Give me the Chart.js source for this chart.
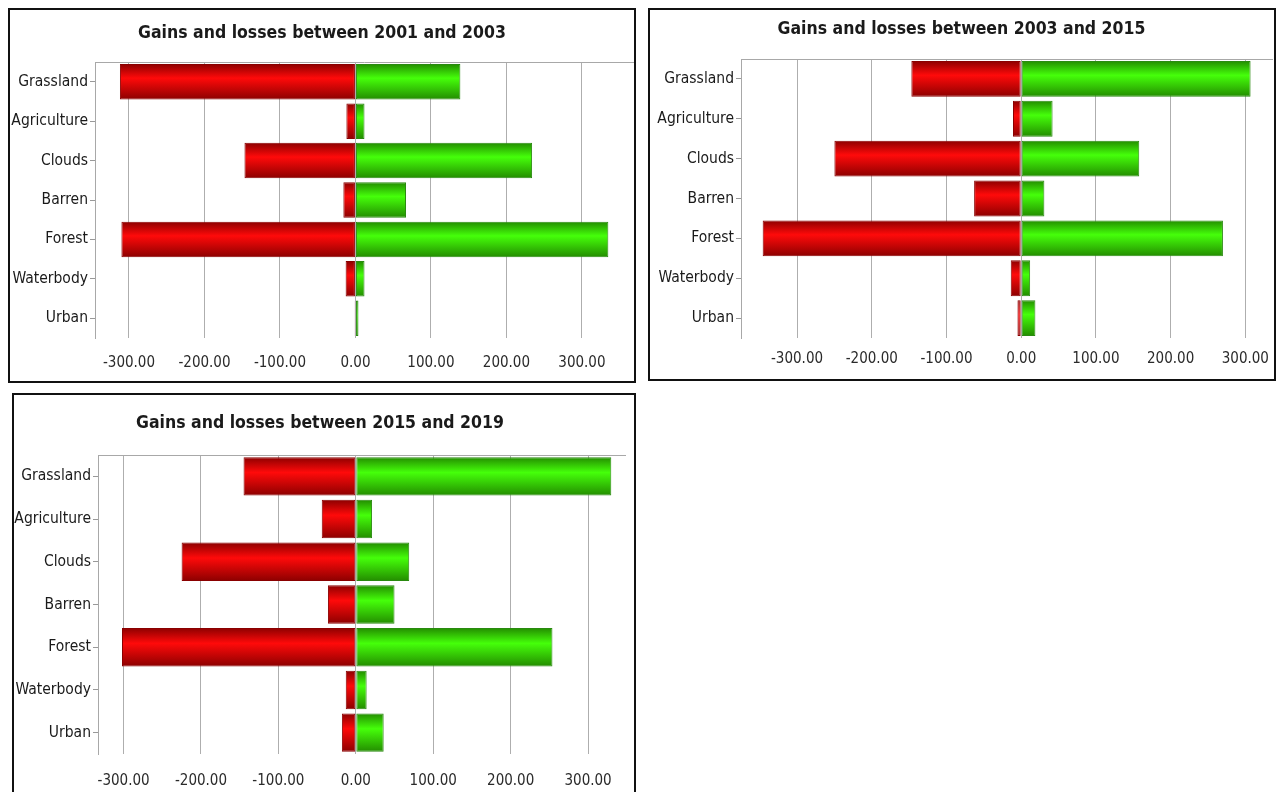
<!DOCTYPE html>
<html>
<head>
<meta charset="utf-8">
<script src="https://cdn.jsdelivr.net/npm/chart.js@4.4.1/dist/chart.umd.min.js"></script>
<style>
  body { margin: 0; background: #fff; width: 1277px; height: 792px; overflow: hidden; position: relative; }
  .panel { position: absolute; box-sizing: border-box; border: 2px solid #111; background: #fff; }
  .panel canvas { position: absolute; left: 0; top: 0; }
</style>
</head>
<body>
<div class="panel" style="left:8px;top:8px;width:628px;height:375px;"><canvas id="c1" width="624" height="371"></canvas></div>
<div class="panel" style="left:648px;top:8px;width:628px;height:373px;"><canvas id="c2" width="624" height="369"></canvas></div>
<div class="panel" style="left:12px;top:393px;width:624px;height:404px;"><canvas id="c3" width="620" height="400"></canvas></div>

<script>
// land cover classes, top to bottom
const categories = ['Grassland', 'Agriculture', 'Clouds', 'Barren', 'Forest', 'Waterbody', 'Urban'];

// 2001 -> 2003
const losses0103 = [-312, -12, -147, -16, -310, -13, -1];
const gains0103 = [139, 12, 234, 67, 335, 12, 4];

// 2003 -> 2015
const losses0315 = [-147, -11, -250, -63, -346, -14, -5];
const gains0315 = [307, 42, 158, 31, 270, 12, 19];

// 2015 -> 2019
const losses1519 = [-145, -44, -225, -36, -302, -13, -18];
const gains1519 = [330, 21, 69, 50, 254, 14, 36];

const tickValues = [-300, -200, -100, 0, 100, 200, 300];

const FONT = '"Liberation Sans Narrow", "DejaVu Sans Condensed", "Arial Narrow", sans-serif';

// vertical gradient per bar, dark edges and bright middle
function barFill(dark, bright) {
  return (ctx) => {
    const chart = ctx.chart;
    const y = chart.scales && chart.scales.y;
    if (!chart.chartArea || !y || ctx.type !== 'data') return bright;
    const c = y.getPixelForValue(ctx.dataIndex);
    const h = Math.abs(y.getPixelForValue(1) - y.getPixelForValue(0)) * 0.9 / 2;
    const g = chart.ctx.createLinearGradient(0, c - h, 0, c + h);
    g.addColorStop(0, dark);
    g.addColorStop(0.4, bright);
    g.addColorStop(1, dark);
    return g;
  };
}

// gray line along the top of the plot area
const topLine = {
  id: 'topLine',
  beforeDatasetsDraw(chart) {
    const { ctx, chartArea } = chart;
    ctx.save();
    ctx.strokeStyle = '#a8a8a8';
    ctx.lineWidth = 1;
    ctx.beginPath();
    ctx.moveTo(chartArea.left, chartArea.top + 0.5);
    ctx.lineTo(chartArea.right, chartArea.top + 0.5);
    ctx.stroke();
    ctx.restore();
  }
};

function makeChart(id, title, losses, gains, cfg) {
  return new Chart(document.getElementById(id), {
    type: 'bar',
    data: {
      labels: categories,
      datasets: [
        {
          label: 'Losses',
          data: losses,
          backgroundColor: barFill('#8c0000', '#ff0a0a'),
          borderColor: '#8a0000',
          borderWidth: 1,
          borderSkipped: false
        },
        {
          label: 'Gains',
          data: gains,
          backgroundColor: barFill('#238c00', '#45ff0a'),
          borderColor: '#2a8a10',
          borderWidth: 1,
          borderSkipped: false
        }
      ]
    },
    options: {
      indexAxis: 'y',
      responsive: false,
      animation: false,
      categoryPercentage: 0.9,
      barPercentage: 1,
      layout: { padding: { left: 0, right: cfg.padRight, top: 0, bottom: 0 } },
      plugins: {
        legend: { display: false },
        tooltip: { enabled: false },
        title: {
          display: true,
          text: title,
          color: '#1a1a1a',
          font: { family: FONT, size: 17.5, weight: 'bold', lineHeight: '24px' },
          padding: { top: cfg.titleTop, bottom: cfg.titleBottom }
        }
      },
      scales: {
        x: {
          stacked: true,
          min: cfg.min,
          max: cfg.max,
          afterBuildTicks: (scale) => {
            scale.ticks = tickValues.map(v => ({ value: v }));
          },
          afterFit: (scale) => {
            scale.height = cfg.xHeight;
            scale.paddingLeft = 0;
            scale.paddingRight = 0;
          },
          grid: { color: '#aeaeae', lineWidth: 1, drawTicks: false },
          border: { display: false },
          ticks: {
            padding: cfg.xPad,
            color: '#2a2a2a',
            font: { family: FONT, size: 15 },
            callback: (v) => Number(v).toFixed(2)
          }
        },
        y: {
          stacked: true,
          afterFit: (scale) => { scale.width = cfg.yWidth; },
          grid: { drawOnChartArea: false, drawTicks: true, offset: false, tickLength: 5, color: '#999' },
          border: { display: true, color: '#a8a8a8' },
          ticks: {
            padding: 2,
            color: '#1a1a1a',
            font: { family: FONT, size: 15.5 }
          }
        }
      }
    },
    plugins: [topLine]
  });
}

makeChart('c1', 'Gains and losses between 2001 and 2003', losses0103, gains0103, {
  min: -345, max: 369, yWidth: 85, padRight: 0, titleTop: 11, titleBottom: 17, xHeight: 43, xPad: 16
});
makeChart('c2', 'Gains and losses between 2003 and 2015', losses0315, gains0315, {
  min: -375, max: 337, yWidth: 91, padRight: 1, titleTop: 7, titleBottom: 18, xHeight: 41, xPad: 12
});
makeChart('c3', 'Gains and losses between 2015 and 2019', losses1519, gains1519, {
  min: -333, max: 349, yWidth: 84, padRight: 8, titleTop: 16, titleBottom: 20, xHeight: 41, xPad: 18
});
</script>
</body>
</html>
